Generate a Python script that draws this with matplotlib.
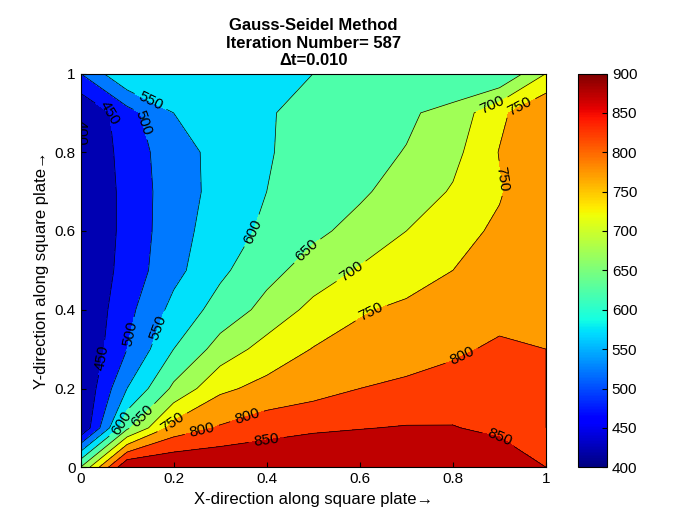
import numpy as np
import matplotlib
matplotlib.use("Agg")
import matplotlib.pyplot as plt
from matplotlib import cm, colors

plt.rcParams['font.family'] = ['Liberation Sans', 'DejaVu Sans']

x_vals = [0, 0.1, 0.2, 0.3, 0.4, 0.5, 0.6, 0.7, 0.8, 0.9, 1.0]
y_vals = [0, 0.1, 0.2, 0.3, 0.4, 0.5, 0.6, 0.7, 0.8, 0.9, 1.0]
# temperature rows, bottom (y=0) to top (y=1)
T_rows = [
    [650, 900, 900, 900, 900, 900, 900, 900, 900, 900, 850],
    [400, 640, 770, 805, 828, 842, 848, 853, 853, 835, 800],
    [400, 550, 660, 740, 765, 780, 800, 808, 812, 810, 800],
    [400, 500, 600, 670, 720, 752, 768, 782, 795, 805, 800],
    [400, 485, 565, 620, 665, 715, 745, 760, 775, 790, 800],
    [400, 470, 535, 590, 635, 670, 705, 725, 750, 775, 800],
    [400, 465, 530, 575, 610, 640, 665, 700, 730, 760, 800],
    [400, 465, 528, 565, 600, 622, 643, 670, 705, 745, 800],
    [400, 470, 530, 565, 597, 615, 635, 652, 685, 752, 800],
    [400, 480, 550, 575, 596, 615, 625, 642, 668, 738, 800],
    [500, 600, 600, 600, 600, 600, 600, 600, 600, 600, 700],
]
levels = list(range(400, 901, 50))
label_spots = [(0.04, 0.28), (0.03, 0.85), (0.1, 0.34), (0.07, 0.9), (0.18, 0.35),
               (0.15, 0.88), (0.18, 1.0), (0.37, 0.6), (0.09, 0.11), (0.47, 0.57),
               (0.14, 0.12), (0.88, 0.93), (0.2, 0.11), (0.58, 0.5), (0.95, 0.9),
               (0.26, 0.1), (0.63, 0.38), (0.36, 0.12), (0.82, 0.28), (1.0, 0.75),
               (0.4, 0.06), (0.9, 0.08)]

X, Y = np.meshgrid(x_vals, y_vals)
T = np.array(T_rows)

jet = plt.get_cmap('jet')
norm = colors.Normalize(400, 900)
band_colors = [jet(norm(lv + 22)) for lv in levels[:-1]]

fig = plt.figure(figsize=(7, 5.25), dpi=100)
ax = fig.add_axes([0.115, 0.11, 0.665, 0.75])
cf = ax.contourf(X, Y, T, levels=levels, colors=band_colors)
cs = ax.contour(X, Y, T, levels=levels, colors='k', linewidths=0.5)
ax.clabel(cs, fmt='%d', fontsize=11, manual=label_spots)
ax.set_xlim(0, 1)
ax.set_ylim(0, 1)
ax.set_xticks([0, 0.2, 0.4, 0.6, 0.8, 1])
ax.set_xticklabels(['0', '0.2', '0.4', '0.6', '0.8', '1'])
ax.set_yticks([0, 0.2, 0.4, 0.6, 0.8, 1])
ax.set_yticklabels(['0', '0.2', '0.4', '0.6', '0.8', '1'])
ax.tick_params(labelsize=11, direction='in')
ax.set_xlabel('X-direction along square plate→', fontsize=12)
ax.set_ylabel('Y-direction along square plate→', fontsize=12)
ax.set_title('Gauss-Seidel Method\nIteration Number= 587\nΔt=0.010', fontsize=12, fontweight='bold')

cax = fig.add_axes([0.825, 0.11, 0.042, 0.75])
cb = fig.colorbar(cm.ScalarMappable(norm=norm, cmap=jet), cax=cax, ticks=levels)
cb.ax.tick_params(labelsize=11, direction='in')

fig.savefig('out.png')
